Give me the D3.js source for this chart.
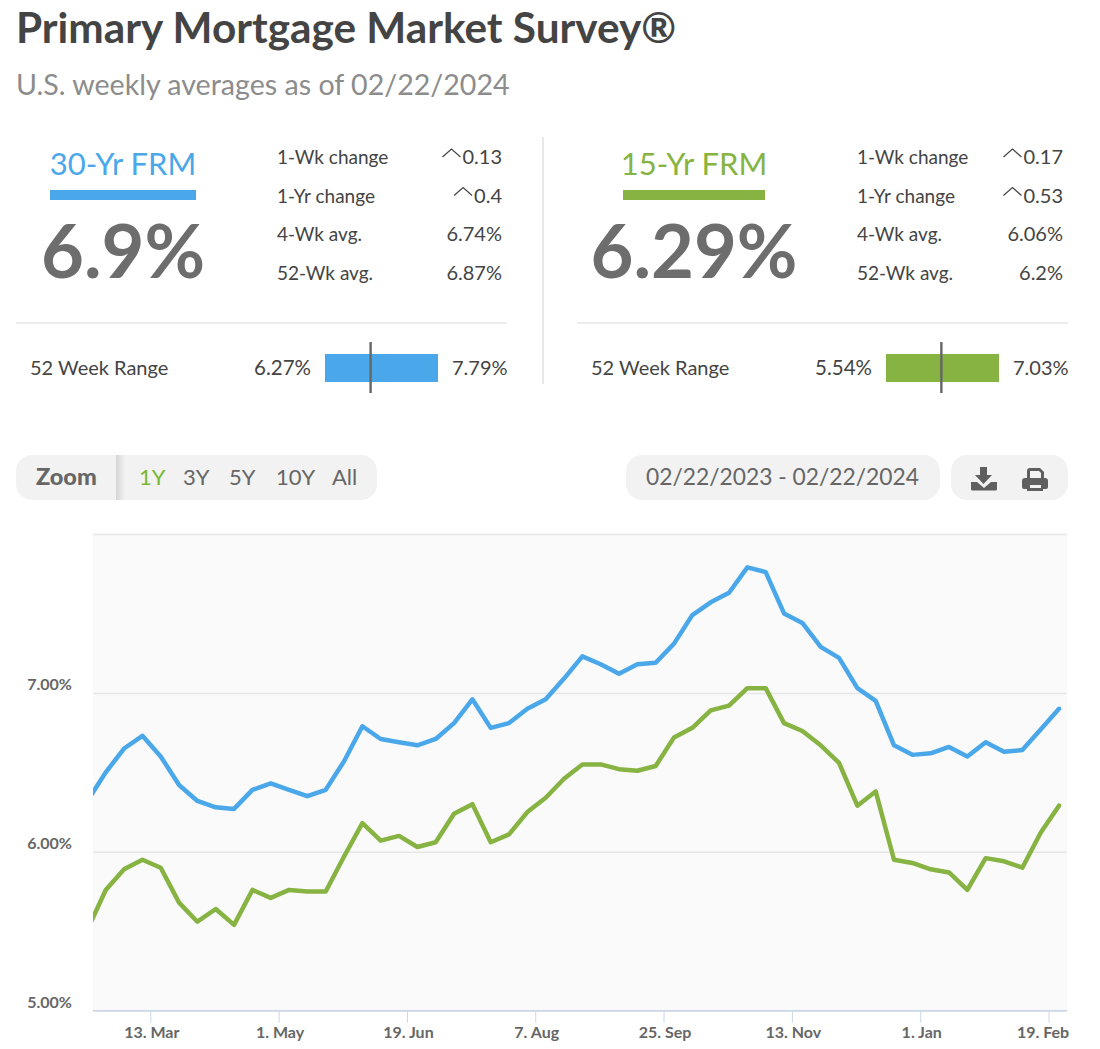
<!DOCTYPE html>
<html>
<head>
<meta charset="utf-8">
<script src="https://cdnjs.cloudflare.com/ajax/libs/d3/7.8.5/d3.min.js"></script>
<style>
	html, body { margin: 0; padding: 0; background: #fff; }
	text { font-family: Lato, "Open Sans", sans-serif; }
</style>
</head>
<body>
<svg id="chart" width="1100" height="1049"></svg>
<script>
// weekly survey dates, first one sits just left of the visible window
var dates = ["2/16/23","2/23/23","3/2/23","3/9/23","3/16/23","3/23/23","3/30/23","4/6/23","4/13/23","4/20/23","4/27/23",
	"5/4/23","5/11/23","5/18/23","5/25/23","6/1/23","6/8/23","6/15/23","6/22/23","6/29/23","7/6/23","7/13/23","7/20/23","7/27/23",
	"8/3/23","8/10/23","8/17/23","8/24/23","8/31/23","9/7/23","9/14/23","9/21/23","9/28/23","10/5/23","10/12/23","10/19/23","10/26/23",
	"11/2/23","11/9/23","11/16/23","11/22/23","11/30/23","12/7/23","12/14/23","12/21/23","12/28/23","1/4/24","1/11/24","1/18/24","1/25/24",
	"2/1/24","2/8/24","2/15/24","2/22/24"];
var frm30 = [6.32,6.50,6.65,6.73,6.60,6.42,6.32,6.28,6.27,6.39,6.43,
	6.39,6.35,6.39,6.57,6.79,6.71,6.69,6.67,6.71,6.81,6.96,6.78,6.81,
	6.90,6.96,7.09,7.23,7.18,7.12,7.18,7.19,7.31,7.49,7.57,7.63,7.79,
	7.76,7.50,7.44,7.29,7.22,7.03,6.95,6.67,6.61,6.62,6.66,6.60,6.69,
	6.63,6.64,6.77,6.90];
var frm15 = [5.51,5.76,5.89,5.95,5.90,5.68,5.56,5.64,5.54,5.76,5.71,
	5.76,5.75,5.75,5.97,6.18,6.07,6.10,6.03,6.06,6.24,6.30,6.06,6.11,
	6.25,6.34,6.46,6.55,6.55,6.52,6.51,6.54,6.72,6.78,6.89,6.92,7.03,
	7.03,6.81,6.76,6.67,6.56,6.29,6.38,5.95,5.93,5.89,5.87,5.76,5.96,
	5.94,5.90,6.12,6.29];
var yTicks = [5,6,7,8];
// tick positions counted in weeks from the first survey date
var xTickWeeks = [3.43,10.43,17.43,24.43,31.43,38.43,45.43,52.43];
var xTickLabels = ["13. Mar","1. May","19. Jun","7. Aug","25. Sep","13. Nov","1. Jan","19. Feb"];
var zoomLabels = ["1Y","3Y","5Y","10Y","All"];
var rowLabels = ["1-Wk change","1-Yr change","4-Wk avg.","52-Wk avg."];
var rows30 = ["0.13","0.4","6.74%","6.87%"];
var rows15 = ["0.17","0.53","6.06%","6.2%"];
var range30 = [6.27,7.79];
var range15 = [5.54,7.03];

var BLUE = "#4aa8ea", GREEN = "#86b342";
var svg = d3.select("#chart");

function label(x,y,txt,size,color,weight,anchor){
	return svg.append("text")
		.attr("x",x).attr("y",y)
		.attr("font-size",size)
		.attr("fill",color)
		.attr("font-weight",weight || 400)
		.attr("text-anchor",anchor || "start")
		.text(txt);
}

label(16,43,"Primary Mortgage Market Survey®",42.3,"#444",700);
label(16,95,"U.S. weekly averages as of 02/22/2024",28.6,"#8c8c8c",400);

function panel(p){
	label(p.cx,175,p.name,31,p.color,400,"middle");
	svg.append("rect").attr("x",p.barL).attr("y",190).attr("width",p.barW).attr("height",10).attr("fill",p.color);
	label(p.cx,278,p.value + "%",74,"#6d6d6d",700,"middle");

	rowLabels.forEach(function(t,i){
		var y = 164 + i * 38.5;
		label(p.labelX,y,t,19,"#444");
		var v = label(p.valueX,y,p.rows[i],20,"#444",400,"end");
		if(i < 2){
			// small caret in front of the change values
			var left = v.node().getBBox().x;
			svg.append("path")
				.attr("d",d3.line()([[left-20,y-7],[left-11,y-15],[left-2,y-7]]))
				.attr("fill","none").attr("stroke","#444").attr("stroke-width",1.2);
		}
	});

	svg.append("line").attr("x1",p.ruleL).attr("x2",p.ruleR).attr("y1",323).attr("y2",323)
		.attr("stroke","#e6e6e6").attr("stroke-width",1.5);
	label(p.ruleL + 14,375,"52 Week Range",20,"#444");
	label(p.rangeL - 14,375,p.range[0] + "%",20.5,"#444",400,"end");
	label(p.rangeL + 127,375,p.range[1] + "%",20,"#444");

	var r = d3.scaleLinear().domain(p.range).range([p.rangeL,p.rangeL + 113]);
	// marker runs on a slightly shorter track than the bar
	var m = d3.scaleLinear().domain(p.range).range([p.rangeL,p.rangeL + 110]);
	svg.append("rect").attr("x",r(p.range[0])).attr("y",354)
		.attr("width",r(p.range[1]) - r(p.range[0])).attr("height",28).attr("fill",p.color);
	svg.append("line").attr("x1",m(+p.value)).attr("x2",m(+p.value)).attr("y1",342).attr("y2",393)
		.attr("stroke","#666").attr("stroke-width",2.4);
}

panel({name:"30-Yr FRM",color:BLUE,value:"6.9",cx:123,barL:50,barW:146,labelX:277,valueX:502,rows:rows30,ruleL:16,ruleR:507,rangeL:325,range:range30});
panel({name:"15-Yr FRM",color:GREEN,value:"6.29",cx:694,barL:623,barW:142,labelX:857,valueX:1063,rows:rows15,ruleL:577,ruleR:1068,rangeL:886,range:range15});
svg.append("line").attr("x1",543).attr("x2",543).attr("y1",137).attr("y2",384).attr("stroke","#e0e0e0").attr("stroke-width",1.5);

// toolbar
function pill(x,w){
	svg.append("rect").attr("x",x).attr("y",455).attr("width",w).attr("height",45).attr("rx",16).attr("fill","#f2f2f2");
}
pill(16,361);
pill(626,314);
pill(951,117);
var grad = svg.append("defs").append("linearGradient").attr("id","sep");
grad.append("stop").attr("offset","0").attr("stop-color","#d4d4d4");
grad.append("stop").attr("offset","1").attr("stop-color","#f2f2f2");
svg.append("rect").attr("x",116).attr("y",455).attr("width",9).attr("height",45).attr("fill","url(#sep)");
label(36,485,"Zoom",23.5,"#666",900);
var zoomX = [139,183,229,276,332];
zoomLabels.forEach(function(t,i){
	label(zoomX[i],485,t,22,i == 0 ? "#7ab833" : "#666");
});
label(782.5,485,"02/22/2023 - 02/22/2024",22.8,"#666",400,"middle");

// download icon
svg.append("path").attr("fill","#5f5f5f")
	.attr("d","M980 467h7v8h5l-8.500 9l-8.500-9h5z M971 482h6l7 6l7-6h6v7a1.500 1.500 0 0 1-1.500 1.500h-23a1.500 1.500 0 0 1-1.500-1.500z");
// printer icon
svg.append("path").attr("fill","#5f5f5f").attr("fill-rule","evenodd")
	.attr("d","M1030 468h10l4 4v6h1a3 3 0 0 1 3 3v6a2 2 0 0 1-2 2h-3v2h-16v-2h-3a2 2 0 0 1-2-2v-6a3 3 0 0 1 3-3h2v-7a3 3 0 0 1 3-3z M1030 471v7h11v-5l-2-2z M1030 485v3h11v-3z");

// chart
var plot = {left:93,right:1067,top:534,bottom:1010.700};
var x = d3.scaleLinear().domain([0,dates.length - 1]).range([87.400,1059]);
var y = d3.scaleLinear().domain([5,8]).range([plot.bottom,plot.top]);

svg.append("rect").attr("x",plot.left).attr("y",plot.top)
	.attr("width",plot.right - plot.left).attr("height",plot.bottom - plot.top).attr("fill","#fafafa");
svg.select("defs").append("clipPath").attr("id","plotClip").append("rect")
	.attr("x",plot.left).attr("y",plot.top).attr("width",plot.right - plot.left).attr("height",plot.bottom - plot.top);

var yAxis = svg.append("g").attr("transform","translate(" + plot.left + ",0)")
	.call(d3.axisLeft(y).tickValues(yTicks).tickSize(-(plot.right - plot.left)).tickFormat(function(d){ return d == 8 ? "" : d3.format(".2f")(d) + "%"; }));
yAxis.select(".domain").remove();
yAxis.selectAll("line").attr("stroke","#e6e6e6").attr("stroke-width",1.5);
yAxis.selectAll("text")
	.attr("x",-21).attr("dy",-3.500)
	.attr("font-size",16).attr("font-weight",700).attr("fill","#666")
	.style("font-family","Lato");

var xAxis = svg.append("g").attr("transform","translate(0," + plot.bottom + ")")
	.call(d3.axisBottom(x).tickValues(xTickWeeks).tickSize(12).tickFormat(function(d,i){ return xTickLabels[i]; }));
xAxis.select(".domain").attr("d","M" + plot.left + ",0H" + plot.right).attr("stroke","#ccd6eb").attr("stroke-width",1.5);
xAxis.selectAll("line").attr("stroke","#ccd6eb").attr("stroke-width",1);
// last label gets pushed in so it stays inside the plot width
xAxis.selectAll("text")
	.attr("y",16).attr("dx",function(d,i){ return i == xTickLabels.length - 1 ? -6 : 1; }).attr("dy","0.71em")
	.attr("font-size",16).attr("font-weight",700).attr("fill","#666")
	.style("font-family","Lato");

var line = d3.line().x(function(d,i){ return x(i); }).y(function(d){ return y(d); });
svg.append("g").attr("clip-path","url(#plotClip)").selectAll("path")
	.data([{v:frm30,c:BLUE},{v:frm15,c:GREEN}])
	.enter().append("path")
		.attr("d",function(d){ return line(d.v); })
		.attr("fill","none")
		.attr("stroke",function(d){ return d.c; })
		.attr("stroke-width",4.500)
		.attr("stroke-linejoin","round")
		.attr("stroke-linecap","round");
</script>
</body>
</html>
